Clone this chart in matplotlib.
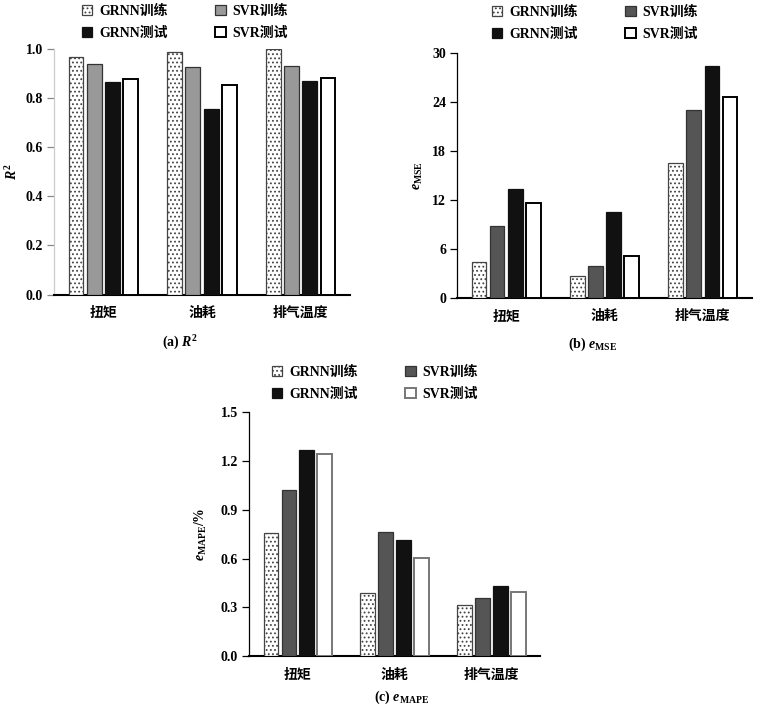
import numpy as np
import matplotlib
matplotlib.use("Agg")
import matplotlib.pyplot as plt
from matplotlib.patches import Patch

plt.rcParams['font.family'] = ['Liberation Serif', 'Noto Sans CJK SC']
plt.rcParams['font.weight'] = 'bold'
plt.rcParams['font.size'] = 10
plt.rcParams['mathtext.fontset'] = 'custom'
plt.rcParams['mathtext.rm'] = 'Liberation Serif:bold'
plt.rcParams['mathtext.it'] = 'Liberation Serif:italic:bold'
plt.rcParams['mathtext.bf'] = 'Liberation Serif:bold'
plt.rcParams['hatch.linewidth'] = 0.8

categories = ['扭矩', '油耗', '排气温度']
series = ['GRNN训练', 'SVR训练', 'GRNN测试', 'SVR测试']

r2_grnn_train = [0.969, 0.988, 0.999]
r2_svr_train = [0.939, 0.928, 0.932]
r2_grnn_test = [0.866, 0.756, 0.870]
r2_svr_test = [0.877, 0.853, 0.881]

mse_grnn_train = [4.42, 2.62, 16.5]
mse_svr_train = [8.80, 3.89, 23.0]
mse_grnn_test = [13.38, 10.52, 28.5]
mse_svr_test = [11.63, 5.08, 24.6]

mape_grnn_train = [0.76, 0.385, 0.314]
mape_svr_train = [1.02, 0.766, 0.355]
mape_grnn_test = [1.265, 0.711, 0.431]
mape_svr_test = [1.245, 0.605, 0.392]

r2_ticks = [0.0, 0.2, 0.4, 0.6, 0.8, 1.0]
mse_ticks = [0, 6, 12, 18, 24, 30]
mape_ticks = [0.0, 0.3, 0.6, 0.9, 1.2, 1.5]

fig = plt.figure(figsize=(7.62, 7.10), dpi=100)
W, H = 762, 710

def axes_px(l, r, top, bottom):
    return fig.add_axes([l / W, 1 - bottom / H, (r - l) / W, (bottom - top) / H])

ax_a = axes_px(54, 350, 49, 294.5)
ax_b = axes_px(457, 752, 53.3, 297.7)
ax_c = axes_px(249.3, 540, 412.3, 656)

width = 0.15
step = 0.185
x = np.arange(len(categories))

def draw(ax, vals, svr_train_color, svr_test_edge, ticks, fmt, ylabel, legend_xy):
    gt, st, gs, ss = vals
    styles = [
        dict(facecolor='white', edgecolor='#444444', hatch='....', linewidth=0.9),
        dict(facecolor=svr_train_color, edgecolor='#333333', linewidth=0.9),
        dict(facecolor='#111111', edgecolor='#111111', linewidth=0.9),
        dict(facecolor='white', edgecolor=svr_test_edge, linewidth=1.4),
    ]
    for i, (v, st_) in enumerate(zip([gt, st, gs, ss], styles)):
        ax.bar(x + (i - 1.5) * step, v, width, zorder=3, **st_)
    ax.set_xlim(-0.5, 2.5)
    ax.set_ylim(ticks[0], ticks[-1])
    ax.set_yticks(ticks)
    ax.set_yticklabels([fmt.format(t) for t in ticks])
    ax.set_xticks(x)
    ax.set_xticklabels(categories)
    ax.tick_params(axis='x', length=0, pad=9)
    ax.tick_params(axis='y', length=5, width=0.9, pad=3, direction='out')
    for s in ['top', 'right']:
        ax.spines[s].set_visible(False)
    ax.spines['bottom'].set_linewidth(1.5)
    ax.spines['left'].set_linewidth(0.9)
    ax.set_ylabel(ylabel, fontsize=10)
    handles = [Patch(**styles[0]), Patch(**styles[2]), Patch(**styles[1]), Patch(**styles[3])]
    labels = [series[0], series[2], series[1], series[3]]
    ax.legend(handles, labels, ncol=2, loc='upper left', frameon=False,
              bbox_to_anchor=(legend_xy[0] / W, 1 - legend_xy[1] / H),
              bbox_transform=fig.transFigure, borderaxespad=0, borderpad=0,
              handlelength=0.75, handleheight=0.75, handletextpad=0.5,
              columnspacing=3.4, labelspacing=0.6, fontsize=10)

draw(ax_a, [r2_grnn_train, r2_svr_train, r2_grnn_test, r2_svr_test],
     '#999999', '#000000', r2_ticks, '{:.1f}', r'$R^2$', (82, 5))
ax_a.spines['left'].set_color('#cccccc')
ax_a.tick_params(axis='y', color='#888888')
ax_a.yaxis.set_label_coords(-0.115, 0.5)

draw(ax_b, [mse_grnn_train, mse_svr_train, mse_grnn_test, mse_svr_test],
     '#555555', '#000000', mse_ticks, '{:d}', r'$e_{\mathrm{MSE}}$', (492, 6))
ax_b.yaxis.set_label_coords(-0.11, 0.5)

draw(ax_c, [mape_grnn_train, mape_svr_train, mape_grnn_test, mape_svr_test],
     '#555555', '#777777', mape_ticks, '{:.1f}', r'$e_{\mathrm{MAPE}}\mathrm{/\%}$', (272, 366))
ax_c.yaxis.set_label_coords(-0.14, 0.5)

fig.text(180 / W, 1 - 343 / H, r'(a) $R^2$', ha='center', va='center', fontsize=10)
fig.text(593 / W, 1 - 344 / H, r'(b) $e_{\mathrm{MSE}}$', ha='center', va='center', fontsize=10)
fig.text(402 / W, 1 - 697 / H, r'(c) $e_{\mathrm{MAPE}}$', ha='center', va='center', fontsize=10)

fig.savefig('out.png', dpi=100)
